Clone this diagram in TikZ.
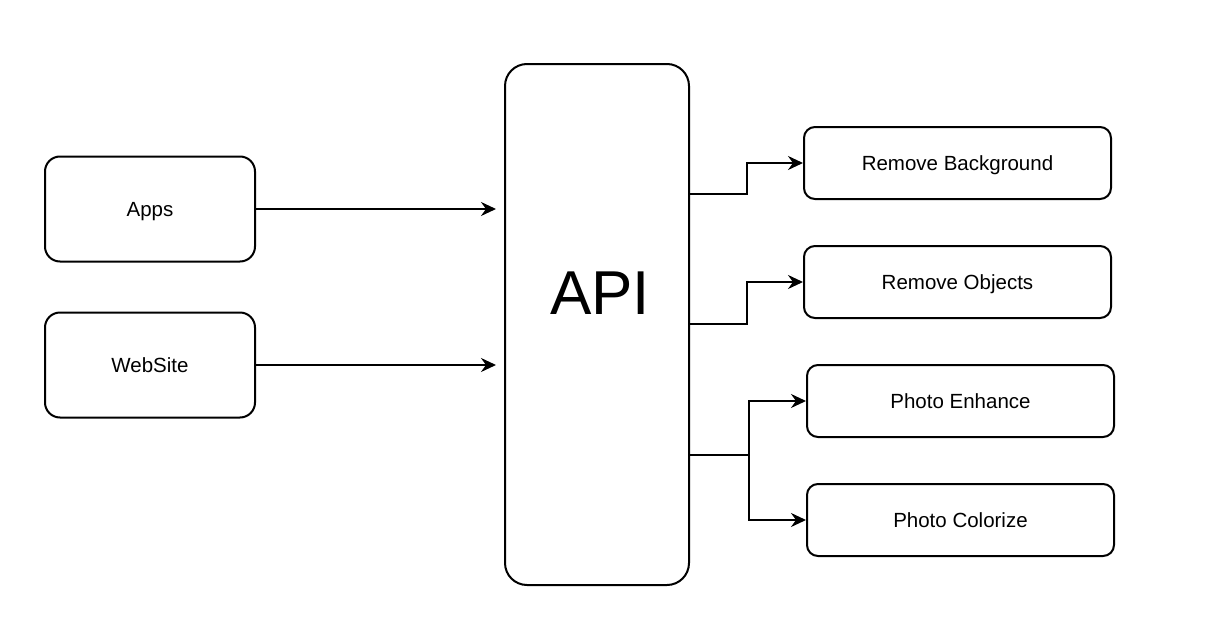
\documentclass[tikz,border=0pt]{standalone}
\usepackage{fontspec}
\setmainfont{Liberation Sans}
\usetikzlibrary{arrows.meta}

\begin{document}
\begin{tikzpicture}[x=1pt,y=-1pt,line width=2pt,
  box/.style={draw,rounded corners=11pt,minimum width=307pt,minimum height=72pt,
    text depth=0pt,font=\fontsize{20.5}{24}\selectfont},
  src/.style={draw,rounded corners=15pt,minimum width=210pt,minimum height=105pt,
    text depth=0pt,font=\fontsize{20.5}{24}\selectfont},
  >={Stealth[length=15pt,width=14pt,inset=5pt]}]

  \useasboundingbox (0,0) rectangle (1205,637);

  \node[src] (apps) at (150,209) {Apps};
  \node[src] (website) at (150,365) {WebSite};
  \node[draw,rounded corners=22pt,minimum width=184pt,minimum height=521pt,
    label={[font=\fontsize{62}{70}\selectfont,xshift=3pt,yshift=31pt]center:API}] (api) at (597,324.5) {};

  \node[box] (removebg) at (957.5,163) {Remove Background};
  \node[box] (removeobj) at (957.5,282) {Remove Objects};
  \node[box] (enhance) at (960.5,401) {Photo Enhance};
  \node[box] (colorize) at (960.5,520) {Photo Colorize};

  \draw[->,shorten >=8pt] (apps) -- (apps -| api.west);
  \draw[->,shorten >=8pt] (website) -- (website -| api.west);

  \draw[->] ([yshift=130.5pt]api.east) -- ++(57,0) |- (removebg);
  \draw[->] ([yshift=0.5pt]api.east) -- ++(57,0) |- (removeobj);
  \draw[->] ([yshift=-130.5pt]api.east) -- ++(59,0) coordinate (fork) |- (enhance);
  \draw[->] (fork) |- (colorize);

\end{tikzpicture}
\end{document}
